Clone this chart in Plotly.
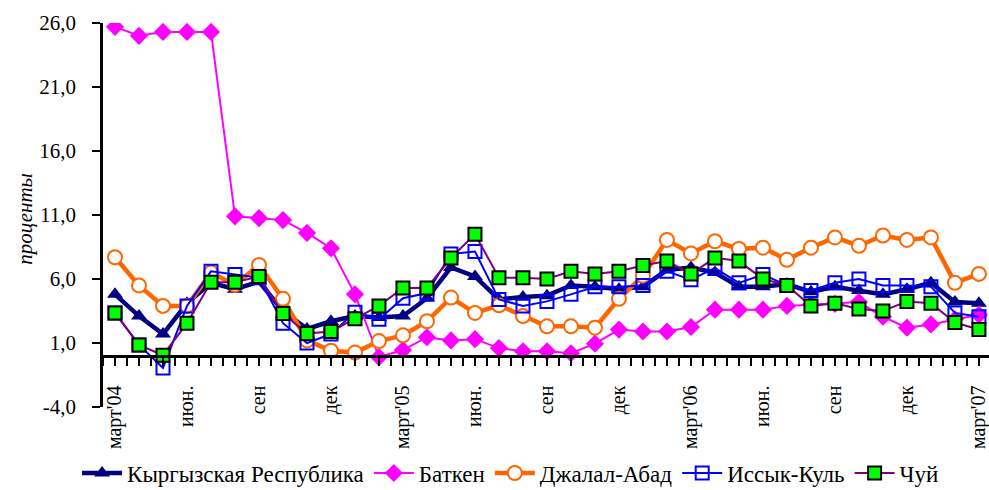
import plotly.graph_objects as go

# Months March 2004 .. March 2007 (index positions)
months = list(range(37))
tick_positions = [0, 3, 6, 9, 12, 15, 18, 21, 24, 27, 30, 33, 36]
tick_labels = ["март'04", "июн.", "сен", "дек", "март'05", "июн.", "сен", "дек",
               "март'06", "июн.", "сен", "дек", "март'07"]
y_ticks = [-4, 1, 6, 11, 16, 21, 26]
y_tick_labels = ["-4,0", "1,0", "6,0", "11,0", "16,0", "21,0", "26,0"]

kyrgyz = [4.8, 3.1, 1.7, 4.1, 5.7, 5.2, 5.8, 3.5, 2.1, 2.7, 3.1, 3.0, 3.1, 4.5, 6.9, 6.2,
          4.4, 4.6, 4.7, 5.5, 5.4, 5.2, 5.4, 6.7, 6.9, 6.5, 5.4, 5.4, 5.6, 5.0, 5.4, 5.1,
          4.8, 5.2, 5.7, 4.2, 4.1]
batken = [25.7, 25.0, 25.3, 25.3, 25.3, 10.9, 10.75, 10.6, 9.6, 8.4, 4.8, -0.1, 0.45, 1.45,
          1.2, 1.3, 0.6, 0.35, 0.35, 0.2, 0.95, 2.05, 1.9, 1.9, 2.25, 3.6, 3.6, 3.6, 3.9,
          4.0, 4.05, 4.2, 3.05, 2.2, 2.45, 2.85, 3.2]
jalalabad = [7.7, 5.5, 3.9, 3.9, 6.5, 5.55, 7.1, 4.45, 1.2, 0.4, 0.25, 1.15, 1.6, 2.7, 4.55,
             3.35, 3.95, 3.1, 2.3, 2.3, 2.2, 4.45, 6.25, 9.05, 8.0, 8.95, 8.35, 8.45, 7.5,
             8.45, 9.25, 8.6, 9.4, 9.05, 9.25, 5.7, 6.4]
issykkul = [3.35, 0.85, -0.95, 3.9, 6.6, 6.35, 6.1, 2.55, 1.0, 1.7, 3.4, 2.85, 4.5, 4.9,
            7.95, 8.15, 4.4, 3.9, 4.25, 4.8, 5.4, 5.4, 5.5, 6.6, 5.95, 6.85, 5.7, 6.35,
            5.5, 5.1, 5.7, 6.0, 5.5, 5.5, 5.4, 3.35, 3.05]
chuy = [3.35, 0.85, 0.05, 2.55, 5.75, 5.75, 6.2, 3.3, 1.75, 1.9, 2.9, 3.9, 5.3, 5.3, 7.65,
        9.5, 6.1, 6.1, 6.0, 6.6, 6.4, 6.6, 7.05, 7.4, 6.4, 7.65, 7.4, 6.0, 5.5, 3.9, 4.1,
        3.65, 3.5, 4.25, 4.1, 2.6, 2.05]

FONT = "Liberation Serif, Times New Roman, DejaVu Serif, serif"

fig = go.Figure()
fig.add_trace(go.Scatter(x=months, y=kyrgyz, name="Кыргызская Республика", mode="lines+markers",
                         line=dict(color="#000080", width=4.5),
                         marker=dict(symbol="triangle-up", size=14, color="#000080")))
fig.add_trace(go.Scatter(x=months, y=batken, name="Баткен", mode="lines+markers",
                         line=dict(color="#FF00FF", width=2),
                         marker=dict(symbol="diamond", size=14, color="#FF00FF")))
fig.add_trace(go.Scatter(x=months, y=jalalabad, name="Джалал-Абад", mode="lines+markers",
                         line=dict(color="#FF6600", width=4.5),
                         marker=dict(symbol="circle", size=14, color="white",
                                     line=dict(color="#FF6600", width=2))))
fig.add_trace(go.Scatter(x=months, y=issykkul, name="Иссык-Куль", mode="lines+markers",
                         line=dict(color="#0000FF", width=2),
                         marker=dict(symbol="square-open", size=13, color="#0000FF",
                                     line=dict(width=2))))
fig.add_trace(go.Scatter(x=months, y=chuy, name="Чуй", mode="lines+markers",
                         line=dict(color="#800080", width=2),
                         marker=dict(symbol="square", size=13, color="#00FF00",
                                     line=dict(color="black", width=2))))

fig.update_layout(
    width=989, height=490,
    paper_bgcolor="white", plot_bgcolor="white",
    margin=dict(l=103, r=0, t=23, b=83, autoexpand=False),
    font=dict(family=FONT, size=21, color="black"),
    showlegend=True,
    legend=dict(orientation="h", x=0.46, xanchor="center", y=-0.172, yanchor="middle",
                font=dict(family=FONT, size=23), itemwidth=40, tracegroupgap=0,
                bgcolor="rgba(0,0,0,0)"),
    xaxis=dict(range=[-0.5, 36.42], anchor="free", position=4 / 30,
               tickmode="array", tickvals=tick_positions, ticktext=tick_labels,
               tickangle=-90, ticks="outside", ticklen=8, tickwidth=1.5, tickcolor="black",
               minor=dict(dtick=0.5, tick0=0, ticks="outside", ticklen=8, tickwidth=1.5,
                          tickcolor="black", showgrid=False),
               ticklabelstandoff=12, ticklabeloverflow="allow",
               showline=True, linecolor="black", linewidth=2.5,
               showgrid=False, zeroline=False, automargin=False,
               tickfont=dict(family=FONT, size=20)),
    yaxis=dict(range=[-4, 26], tickmode="array", tickvals=y_ticks, ticktext=y_tick_labels,
               ticks="outside", ticklen=8, tickwidth=1.5, tickcolor="black",
               showline=True, linecolor="black", linewidth=2.5,
               showgrid=False, zeroline=False, automargin=False,
               ticklabelstandoff=12,
               tickfont=dict(family=FONT, size=21)),
    annotations=[dict(text="<i>проценты</i>", x=(25 - 103) / 886, xref="paper", y=0.49,
                      yref="paper", textangle=-90, showarrow=False,
                      font=dict(family=FONT, size=21),
                      xanchor="center", yanchor="middle")],
)

fig.write_html("out.html", config={"displayModeBar": False},
               post_script="document.body.style.margin='0';document.body.style.padding='0';")
